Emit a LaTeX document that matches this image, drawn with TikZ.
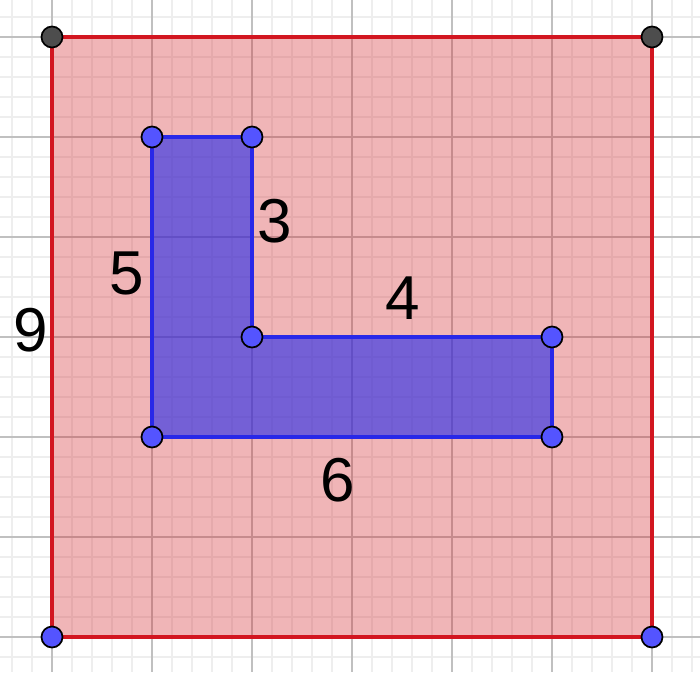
\documentclass[tikz,border=0pt]{standalone}
\usepackage{fontspec}
\setmainfont{Liberation Sans}
\definecolor{minorc}{RGB}{238,238,238}
\definecolor{majorc}{RGB}{192,192,192}
\definecolor{redline}{RGB}{210,22,32}
\definecolor{redfill}{RGB}{212,32,38}
\definecolor{blueline}{RGB}{40,40,232}
\definecolor{bluefill}{RGB}{34,40,235}
\definecolor{ptblue}{RGB}{84,84,255}
\definecolor{ptdark}{RGB}{77,77,77}
\begin{document}
\begin{tikzpicture}[x=1pt,y=-1pt,
  minorgrid/.style={draw=minorc,line width=1.2pt},
  majorgrid/.style={draw=majorc,line width=1.4pt},
  bigsq/.style={draw=redline,line width=4.6pt,line join=miter},
  lshape/.style={draw=blueline,line width=4.6pt,line join=miter},
  bluept/.style={circle,draw=black,line width=1.7pt,fill=ptblue,minimum size=21pt,inner sep=0pt},
  darkpt/.style={circle,draw=black,line width=1.7pt,fill=ptdark,minimum size=21pt,inner sep=0pt},
  lab/.style={font=\fontsize{62}{62}\selectfont,inner sep=0pt,text=black}]
\useasboundingbox (0,0) rectangle (700,672);
\fill[white] (0,0) rectangle (700,672);
% grid
\foreach \x in {12,32,...,692} \draw[minorgrid] (\x,0) -- (\x,672);
\foreach \y in {17,37,...,672} \draw[minorgrid] (0,\y) -- (700,\y);
\foreach \x in {52,152,...,652} \draw[majorgrid] (\x,0) -- (\x,672);
\foreach \y in {37,137,...,637} \draw[majorgrid] (0,\y) -- (700,\y);
% vertices
\coordinate (A) at (52,37);
\coordinate (B) at (652,37);
\coordinate (C) at (652,637);
\coordinate (D) at (52,637);
\coordinate (P1) at (152,137);
\coordinate (P2) at (252,137);
\coordinate (P3) at (252,337);
\coordinate (P4) at (552,337);
\coordinate (P5) at (552,437);
\coordinate (P6) at (152,437);
% fills
\fill[redfill,opacity=0.33] (A) -- (B) -- (C) -- (D) -- cycle;
\fill[bluefill,opacity=0.6] (P1) -- (P2) -- (P3) -- (P4) -- (P5) -- (P6) -- cycle;
% outlines
\draw[bigsq] (A) -- (B) -- (C) -- (D) -- cycle;
\draw[lshape] (P1) -- (P2) -- (P3) -- (P4) -- (P5) -- (P6) -- cycle;
% points
\node[darkpt] (nA) at (A) {};
\node[darkpt] (nB) at (B) {};
\node[bluept] (nC) at (C) {};
\node[bluept] (nD) at (D) {};
\foreach \p in {P1,P2,P3,P4,P5,P6} \node[bluept] (n\p) at (\p) {};
% labels
\node[lab] (l9) at (31,330) {9};
\node[lab] (l5) at (127,273) {5};
\node[lab] (l3) at (275,221) {3};
\node[lab] (l4) at (403,298) {4};
\node[lab] (l6) at (338,480) {6};
\end{tikzpicture}
\end{document}
